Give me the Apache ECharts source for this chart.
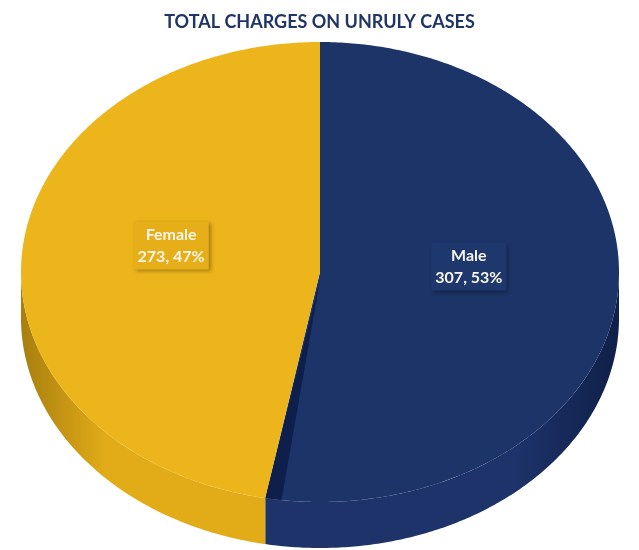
<!DOCTYPE html>
<html>
<head>
<meta charset="utf-8">
<script src="https://cdn.jsdelivr.net/npm/echarts@6/dist/echarts.min.js"></script>
<style>
  html, body { margin: 0; padding: 0; background: #fff; }
  #main { width: 639px; height: 550px; }
</style>
</head>
<body>
<div id="main"></div>
<script>
// chart data
var categories = ['Male', 'Female'];
var counts = [307, 273];
var percents = [53, 47];

var topColors = ['#1c3468', '#ecb51b'];
var wallLight = ['#1d336a', '#e2ac18'];
var wallDark = ['#0f1f48', '#a87e0e'];

var total = counts.reduce(function (a, b) { return a + b; }, 0);

// slice angles, starting at 12 o'clock, going clockwise on screen
var startAngles = [];
var acc = -Math.PI / 2;
for (var i = 0; i < counts.length; i++) {
    startAngles.push(acc);
    acc += counts[i] / total * Math.PI * 2;
}

var cx = 320, cy = 272, rx = 299, ry = 230, depth = 46;

function arcPoints(a0, a1, dy) {
    var pts = [];
    var n = Math.max(2, Math.ceil(Math.abs(a1 - a0) / 0.01));
    for (var k = 0; k <= n; k++) {
        var t = a0 + (a1 - a0) * k / n;
        pts.push([cx + rx * Math.cos(t), cy + ry * Math.sin(t) + dy]);
    }
    return pts;
}

function renderSlice(params, api) {
    var idx = params.dataIndex;
    var a0 = startAngles[idx];
    var a1 = a0 + api.value(0) / total * Math.PI * 2;
    var children = [];

    // side wall: only the front half (angles between 0 and PI) is visible
    var segs = [[0, Math.PI], [2 * Math.PI, 3 * Math.PI]];
    segs.forEach(function (s) {
        var w0 = Math.max(a0, s[0]), w1 = Math.min(a1, s[1]);
        if (w1 <= w0) return;
        var top = arcPoints(w0, w1, 0);
        var bot = arcPoints(w0, w1, depth).reverse();
        children.push({
            type: 'polygon',
            shape: { points: top.concat(bot) },
            style: {
                fill: new echarts.graphic.LinearGradient(0, 0, 1, 0, idx === 0 ? [
                    { offset: 0, color: wallLight[idx] },
                    { offset: 0.7, color: wallLight[idx] },
                    { offset: 1, color: wallDark[idx] }
                ] : [
                    { offset: 0, color: wallDark[idx] },
                    { offset: 0.35, color: wallLight[idx] },
                    { offset: 1, color: wallLight[idx] }
                ])
            }
        });
    });

    // top face
    children.push({
        type: 'polygon',
        shape: { points: [[cx, cy]].concat(arcPoints(a0, a1, 0)) },
        style: { fill: topColors[idx] }
    });

    // dark cut edge where Male meets Female at the bottom
    if (idx === 0) {
        children.push({
            type: 'polygon',
            shape: { points: [[cx, cy + 8]].concat(arcPoints(a1 - 0.055, a1, 0)) },
            style: { fill: '#0e1f4c' }
        });
    }

    // label
    var mid = (a0 + a1) / 2;
    var f = 0.5;
    children.push({
        type: 'text',
        x: cx + f * rx * Math.cos(mid),
        y: cy + f * ry * Math.sin(mid) - 16,
        style: {
            text: categories[idx] + '\n' + counts[idx] + ', ' + percents[idx] + '%',
            fill: '#f8f4e8',
            font: 'bold 16px Lato, "Open Sans", sans-serif',
            lineHeight: 22,
            align: 'center',
            verticalAlign: 'middle',
            backgroundColor: idx === 0 ? '#1e376c' : '#e6ae19',
            padding: [2, 4, 2, 4],
            shadowBlur: 4,
            shadowOffsetX: 2,
            shadowOffsetY: 2,
            shadowColor: 'rgba(0,0,0,0.3)'
        }
    });

    return { type: 'group', children: children };
}

var chart = echarts.init(document.getElementById('main'));
chart.setOption({
    animation: false,
    title: {
        text: 'TOTAL CHARGES ON UNRULY CASES',
        left: 'center',
        top: 8,
        textStyle: {
            color: '#1f3566',
            fontSize: 18,
            fontWeight: 'bold',
            fontFamily: 'Lato, "Open Sans", sans-serif'
        }
    },
    series: [{
        type: 'custom',
        coordinateSystem: 'none',
        renderItem: renderSlice,
        data: counts.map(function (v) { return [v]; })
    }]
});
</script>
</body>
</html>
